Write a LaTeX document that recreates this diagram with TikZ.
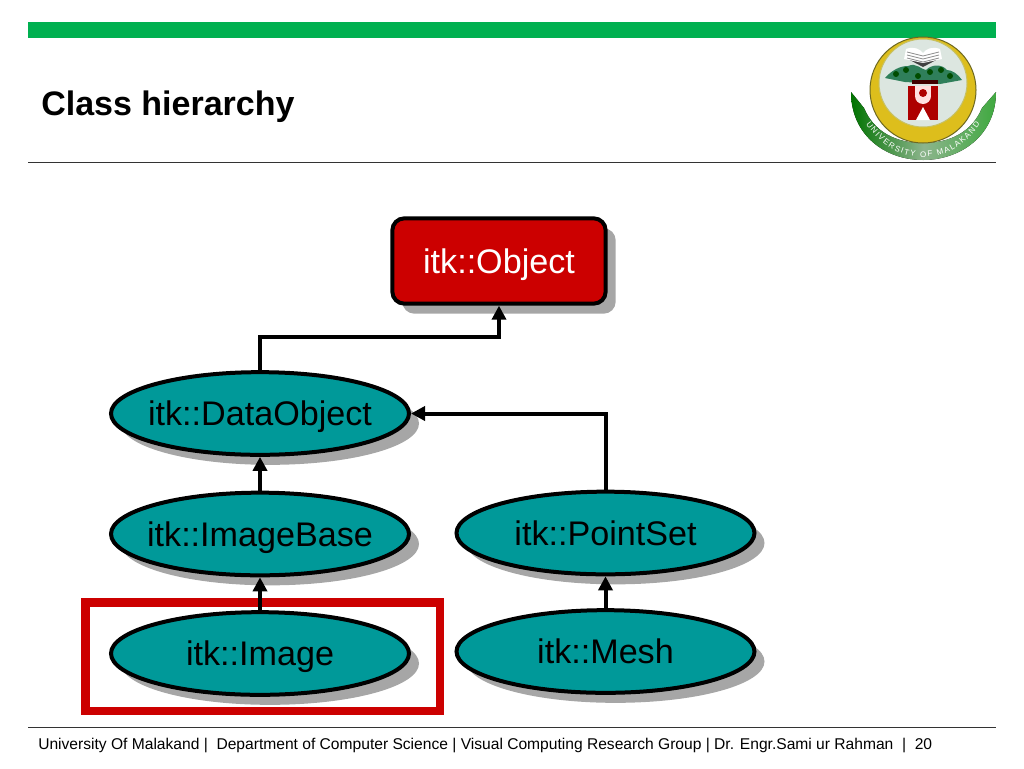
\documentclass[tikz,border=0pt]{standalone}
\usepackage{fontspec}
\setmainfont{Liberation Sans}
\usepackage{xcolor}
\definecolor{tealITK}{HTML}{009999}
\definecolor{redITK}{HTML}{CC0000}
\definecolor{greenBar}{HTML}{00B050}
\definecolor{goldLogo}{HTML}{DDBE1C}
\definecolor{paleLogo}{HTML}{DCE6E0}
\definecolor{treeLogo}{HTML}{2F7F5A}
\usetikzlibrary{arrows.meta,shapes.geometric,shadows,decorations.text}
\begin{document}
\begin{tikzpicture}[x=0.75pt,y=-0.75pt,
 label/.style={inner sep=0pt,anchor=base west},
 klass/.style={ellipse,draw=black,line width=3pt,fill=tealITK,inner ysep=0pt,inner xsep=-8pt,
 minimum width=223.5pt,minimum height=62pt,text=black,font=\fontsize{25.6}{28}\selectfont,
 text height=18.5pt,text depth=0pt,
 drop shadow={shadow xshift=7.5pt,shadow yshift=-7.5pt,fill=black!35,opacity=1}},
 root/.style={klass,rectangle,rounded corners=9pt,fill=redITK,text=white,inner xsep=0pt,
 minimum width=160pt,minimum height=64pt},
 frame/.style={draw=redITK,line width=6.5pt,minimum width=266pt,minimum height=81.5pt,inner sep=0pt},
 arr/.style={-{Triangle[length=10.5pt,width=10.5pt]},line width=3pt}]
 \useasboundingbox (0,0) rectangle (1024,768);
 \fill[greenBar] (28,22) rectangle (996,38);
 \draw[black!80,line width=0.75pt] (28,162) -- (996,162);
 \draw[black!80,line width=0.75pt] (28,727) -- (996,727);
 \node[label,font=\fontsize{25.5}{28}\selectfont\bfseries] (title) at (41,115) {Class hierarchy};
 \node[label,font=\fontsize{11.7}{13}\selectfont] (footer) at (38,749)
  {University Of Malakand |\ \ Department of Computer Science | Visual Computing Research Group | Dr. Engr.Sami ur Rahman \ |\ \ 20};
 % logo
 \fill[left color=green!45!black,right color=green!55!black!75,middle color=green!35!black!45]
  (851,92) .. controls (851,135) and (885,160) .. (923,160)
  .. controls (961,160) and (996,135) .. (996,92)
  -- (982,108) .. controls (972,132) and (950,143) .. (923,143)
  .. controls (896,143) and (874,132) .. (864,108) -- cycle;
 \fill[goldLogo,draw=olive!70!black,line width=0.75pt] (923,90) circle[radius=53];
 \fill[paleLogo,draw=olive!50,line width=0.75pt] (923,83) circle[radius=44];
 \path[decorate,decoration={text along path,text align={fit to path},
  text={|\fontsize{6}{7}\selectfont\color{white}|UNIVERSITY OF MALAKAND}}]
  (866,124) .. controls (884,150) and (905,157) .. (923,157)
  .. controls (941,157) and (962,150) .. (980,124);
 % book
 \fill[black!75] (906,58) -- (923,62) -- (940,58) -- (923,67) -- cycle;
 \fill[white] (906,49) .. controls (914,46) and (920,49) .. (923,53)
  .. controls (926,49) and (932,46) .. (940,49) -- (942,59) -- (923,63) -- (904,59) -- cycle;
 \foreach \yy in {52,55,58}
  \draw[black!45,line width=0.6pt] (907,\yy) -- (923,\yy+4) -- (939,\yy);
 % trees
 \fill[treeLogo] (885,78) .. controls (892,70) and (900,66) .. (908,66)
  .. controls (916,62) and (922,70) .. (926,70) .. controls (932,64) and (942,64) .. (947,70)
  .. controls (952,70) and (958,74) .. (962,80) -- (940,84) -- (905,82) -- cycle;
 \foreach \xx/\yy in {896/74,906/70,918/76,930/72,941/70,950/76}
  \fill[green!30!black] (\xx,\yy) circle[radius=3];
 % emblem
 \fill[black!75!red] (912,80) rectangle (938,84);
 \fill[redITK!85!black] (908,86) rectangle (938,120);
 \fill[red!12] (923,86) ++(-8,0) rectangle ++(16,10);
 \fill[red!12] (923,96) circle[radius=8];
 \fill[redITK!85!black] (923,93) circle[radius=4];
 \fill[white] (916,120) -- (923,107) -- (930,120) -- cycle;
 % hierarchy
 \node[frame] (highlight) at (262.5,656.5) {};
 \node[root] (object) at (499,261) {itk::Object};
 \node[klass] (dataobject) at (260,413.5) {itk::DataObject};
 \node[klass] (imagebase) at (260,534) {itk::ImageBase};
 \node[klass] (image) at (260,653.5) {itk::Image};
 \node[klass] (pointset) at (605.5,533) {itk::PointSet};
 \node[klass] (mesh) at (605.5,651.5) {itk::Mesh};
 \coordinate (bend) at (380,337);
 \draw[arr] (dataobject.north) |- (bend) -| (object.south);
 \draw[arr] (pointset.north) |- (dataobject.east);
 \draw[arr] (imagebase)--(dataobject);
 \draw[arr] (image)--(imagebase);
 \draw[arr] (mesh)--(pointset);
\end{tikzpicture}
\end{document}
